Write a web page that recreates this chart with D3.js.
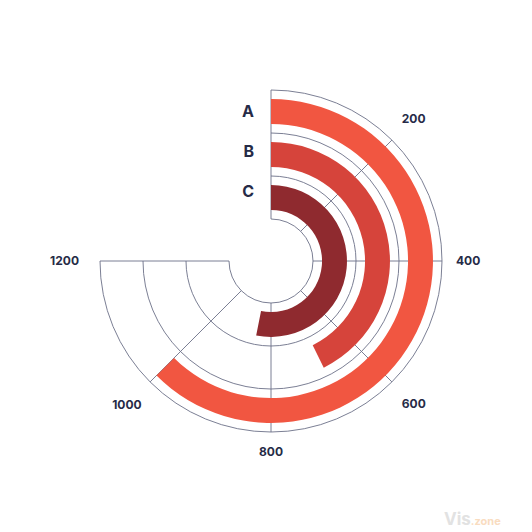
<!DOCTYPE html>
<html>
<head>
<meta charset="utf-8">
<script src="https://cdn.jsdelivr.net/npm/d3@7"></script>
<style>
  html, body { margin: 0; padding: 0; background: #fff; }
  svg { display: block; }
  text { font-family: Inter, "Open Sans", sans-serif; font-weight: 700; }
</style>
</head>
<body>
<div id="chart"></div>
<script>
// ---- data ----
const categories = ["A", "B", "C"];
const values = [1000, 683, 850];
const tickValues = [200, 400, 600, 800, 1000, 1200];
const colors = ["#f15641", "#d6443b", "#8f2a2f"];
const maxValue = 1200;

// ---- layout ----
const W = 532, H = 532;
const cx = 271, cy = 261;
const innerR = 42, outerR = 171;

const svg = d3.select("#chart").append("svg").attr("width", W).attr("height", H);
const g = svg.append("g").attr("transform", `translate(${cx},${cy})`);

const angle = d3.scaleLinear().domain([0, maxValue]).range([0, 1.5 * Math.PI]);
const radius = d3.scaleBand().domain(categories.slice().reverse())
  .range([innerR, outerR]).paddingInner(0.42).paddingOuter(0.21);
const labelR = d3.scalePoint().domain(categories.slice().reverse()).range([70, 149.5]);

const gridColor = "#6c7088";

// grid arcs at band boundaries
const gridRadii = [innerR].concat(categories.slice().reverse().map(c => radius(c) - radius.step() * radius.paddingInner() / 2 + radius.step()));
gridRadii.forEach(r => {
  const p = d3.path();
  p.moveTo(0, -r);
  p.arc(0, 0, r, -Math.PI / 2, -Math.PI / 2 + angle(maxValue), false);
  g.append("path").attr("d", p.toString()).attr("fill", "none")
    .attr("stroke", gridColor).attr("stroke-width", 0.9);
});

// radial lines
[0].concat(tickValues).forEach(v => {
  const a = angle(v);
  g.append("line")
    .attr("x1", innerR * Math.sin(a)).attr("y1", -innerR * Math.cos(a))
    .attr("x2", outerR * Math.sin(a)).attr("y2", -outerR * Math.cos(a))
    .attr("stroke", gridColor).attr("stroke-width", 0.9);
});

// bars
const arc = d3.arc()
  .innerRadius(d => radius(d.cat))
  .outerRadius(d => radius(d.cat) + radius.bandwidth())
  .startAngle(0)
  .endAngle(d => angle(d.value));

const data = categories.map((c, i) => ({ cat: c, value: values[i], color: colors[i] }));
g.selectAll("path.bar").data(data).join("path")
  .attr("class", "bar")
  .attr("d", arc)
  .attr("fill", d => d.color);

// category labels
g.selectAll("text.cat").data(data).join("text")
  .attr("class", "cat")
  .attr("x", -17)
  .attr("y", d => -labelR(d.cat))
  .attr("dy", "0.36em")
  .attr("text-anchor", "end")
  .attr("font-size", 16)
  .attr("fill", "#262b47")
  .text(d => d.cat);

// tick labels
tickValues.forEach(v => {
  const a = angle(v);
  const t = g.append("text")
    .attr("font-size", 12)
    .attr("fill", "#262b47")
    .attr("text-anchor", "middle")
    .attr("dy", "0.35em")
    .text(v);
  const bb = t.node().getBBox();
  const hw = bb.width / 2, hh = 5.5;
  const s = Math.sin(a), c = Math.cos(a);
  const r = 185 + Math.abs(s) * hw + Math.abs(c) * hh + 9 * Math.abs(s * c) + (s < -0.9 ? 7 : 0);
  t.attr("x", r * s).attr("y", -r * c);
});

// watermark
const wm = svg.append("text").attr("x", 444).attr("y", 525);
wm.append("tspan").attr("font-size", 17).attr("fill", "#e2e2e2").text("Vis");
wm.append("tspan").attr("font-size", 11).attr("fill", "#f9dcc0").text(".zone");
</script>
</body>
</html>
